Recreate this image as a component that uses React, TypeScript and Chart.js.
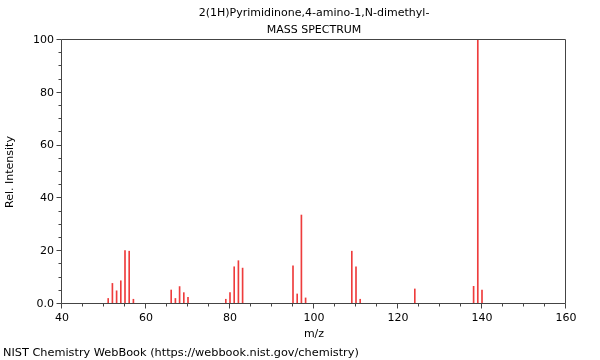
import React, { useEffect, useRef } from "react";
import { Chart, registerables } from "chart.js";

Chart.register(...registerables);

const TITLE_LINES = ["2(1H)Pyrimidinone,4-amino-1,N-dimethyl-", "MASS SPECTRUM"];
const FOOTER = "NIST Chemistry WebBook (https://webbook.nist.gov/chemistry)";
const X_LABEL = "m/z";
const Y_LABEL = "Rel. Intensity";

const MZ = [51, 52, 53, 54, 55, 56, 57, 66, 67, 68, 69, 70, 79, 80, 81, 82, 83, 95, 96, 97, 98, 109, 110, 111, 124, 138, 139, 140];
const INTENSITY = [2.1, 7.8, 5.0, 8.8, 20.2, 20.0, 1.8, 5.3, 2.1, 6.6, 4.3, 2.5, 1.8, 4.3, 14.1, 16.4, 13.6, 14.5, 3.8, 33.7, 2.3, 20.0, 14.1, 1.8, 5.7, 6.7, 100, 5.3];

const X_MIN = 40;
const X_MAX = 160;
const Y_MIN = 0;
const Y_MAX = 100;
const MINOR_STEP = 5;
const MAJOR_STEP = 20;

const FONT_FAMILY = "'DejaVu Sans', sans-serif";
const FONT_SIZE = 11;
const AXIS_COLOR = "#444";
const BAR_COLOR = "rgb(238,60,60)";

const framePlugin = {
  id: "nistFrame",
  afterDraw(chart: any) {
    const { ctx, chartArea } = chart;
    const { left, right, top, bottom } = chartArea;
    const xs = chart.scales.x;
    const ys = chart.scales.y;
    ctx.save();
    ctx.strokeStyle = AXIS_COLOR;
    ctx.lineWidth = 1;
    const L = Math.round(left) - 0.5;
    const R = Math.round(right) - 0.5;
    const T = Math.round(top) - 0.5;
    const B = Math.round(bottom) - 0.5;
    ctx.beginPath();
    ctx.moveTo(L, T);
    ctx.lineTo(R, T);
    ctx.lineTo(R, B);
    ctx.lineTo(L, B);
    ctx.closePath();
    ctx.stroke();
    ctx.beginPath();
    for (const t of xs.ticks) {
      const px = Math.round(xs.getPixelForValue(t.value)) - 0.5;
      const len = t.value % MAJOR_STEP === 0 ? 5 : 3;
      ctx.moveTo(px, B);
      ctx.lineTo(px, B + len);
    }
    for (const t of ys.ticks) {
      const py = Math.round(ys.getPixelForValue(t.value)) - 0.5;
      const len = t.value % MAJOR_STEP === 0 ? 5 : 3;
      ctx.moveTo(L, py);
      ctx.lineTo(L - len, py);
    }
    ctx.stroke();

    ctx.fillStyle = "#000";
    ctx.font = `${FONT_SIZE}px ${FONT_FAMILY}`;
    ctx.textBaseline = "middle";
    ctx.textAlign = "center";
    const cx = (left + right) / 2;
    ctx.fillText(TITLE_LINES[0], cx, 13.5);
    ctx.fillText(TITLE_LINES[1], cx, 30.5);
    ctx.textAlign = "left";
    ctx.font = `11.3px ${FONT_FAMILY}`;
    ctx.fillText(FOOTER, 3, 353);
    ctx.restore();
  },
};

export default function App() {
  const canvasRef = useRef<HTMLCanvasElement | null>(null);

  useEffect(() => {
    document.body.style.margin = "0";
    const canvas = canvasRef.current;
    if (!canvas) return;
    const font = { family: FONT_FAMILY, size: FONT_SIZE };
    const chart = new Chart(canvas, {
      type: "bar",
      data: {
        datasets: [
          {
            data: MZ.map((m, i) => ({ x: m, y: INTENSITY[i] })),
            backgroundColor: BAR_COLOR,
            borderWidth: 0,
            barThickness: 1,
            grouped: false,
          } as any,
        ],
      },
      options: {
        animation: false,
        responsive: false,
        devicePixelRatio: 1,
        layout: { padding: { top: 40, right: 34, bottom: 0, left: 0 } },
        plugins: {
          legend: { display: false },
          tooltip: { enabled: false },
          title: { display: false },
        },
        scales: {
          x: {
            type: "linear",
            min: X_MIN,
            max: X_MAX,
            offset: false,
            afterFit: (s: any) => {
              s.height = 56;
            },
            grid: {
              display: true,
              drawOnChartArea: false,
              drawTicks: true,
              tickLength: 5,
              color: "transparent",
              tickColor: "transparent",
            },
            border: { display: false },
            ticks: {
              stepSize: MINOR_STEP,
              autoSkip: false,
              maxRotation: 0,
              padding: 3,
              color: "#000",
              font,
              callback: (v: any) => (Number(v) % MAJOR_STEP === 0 ? String(v) : ""),
            },
            title: {
              display: true,
              text: X_LABEL,
              color: "#000",
              font,
              padding: { top: 0, bottom: 19 },
            },
          },
          y: {
            min: Y_MIN,
            max: Y_MAX,
            afterFit: (s: any) => {
              s.width = 62;
            },
            grid: {
              display: true,
              drawOnChartArea: false,
              drawTicks: true,
              tickLength: 5,
              color: "transparent",
              tickColor: "transparent",
            },
            border: { display: false },
            ticks: {
              stepSize: MINOR_STEP,
              autoSkip: false,
              padding: 3,
              color: "#000",
              font,
              callback: (v: any) =>
                Number(v) === 0 ? "0.0" : Number(v) % MAJOR_STEP === 0 ? String(v) : "",
            },
            title: {
              display: true,
              text: Y_LABEL,
              color: "#000",
              font,
              padding: { top: 4, bottom: 0 },
            },
          },
        },
      } as any,
      plugins: [framePlugin],
    });
    return () => chart.destroy();
  }, []);

  return (
    <div style={{ position: "fixed", left: 0, top: 0, width: 600, height: 360, background: "#fff" }}>
      <canvas ref={canvasRef} width={600} height={360} />
    </div>
  );
}
